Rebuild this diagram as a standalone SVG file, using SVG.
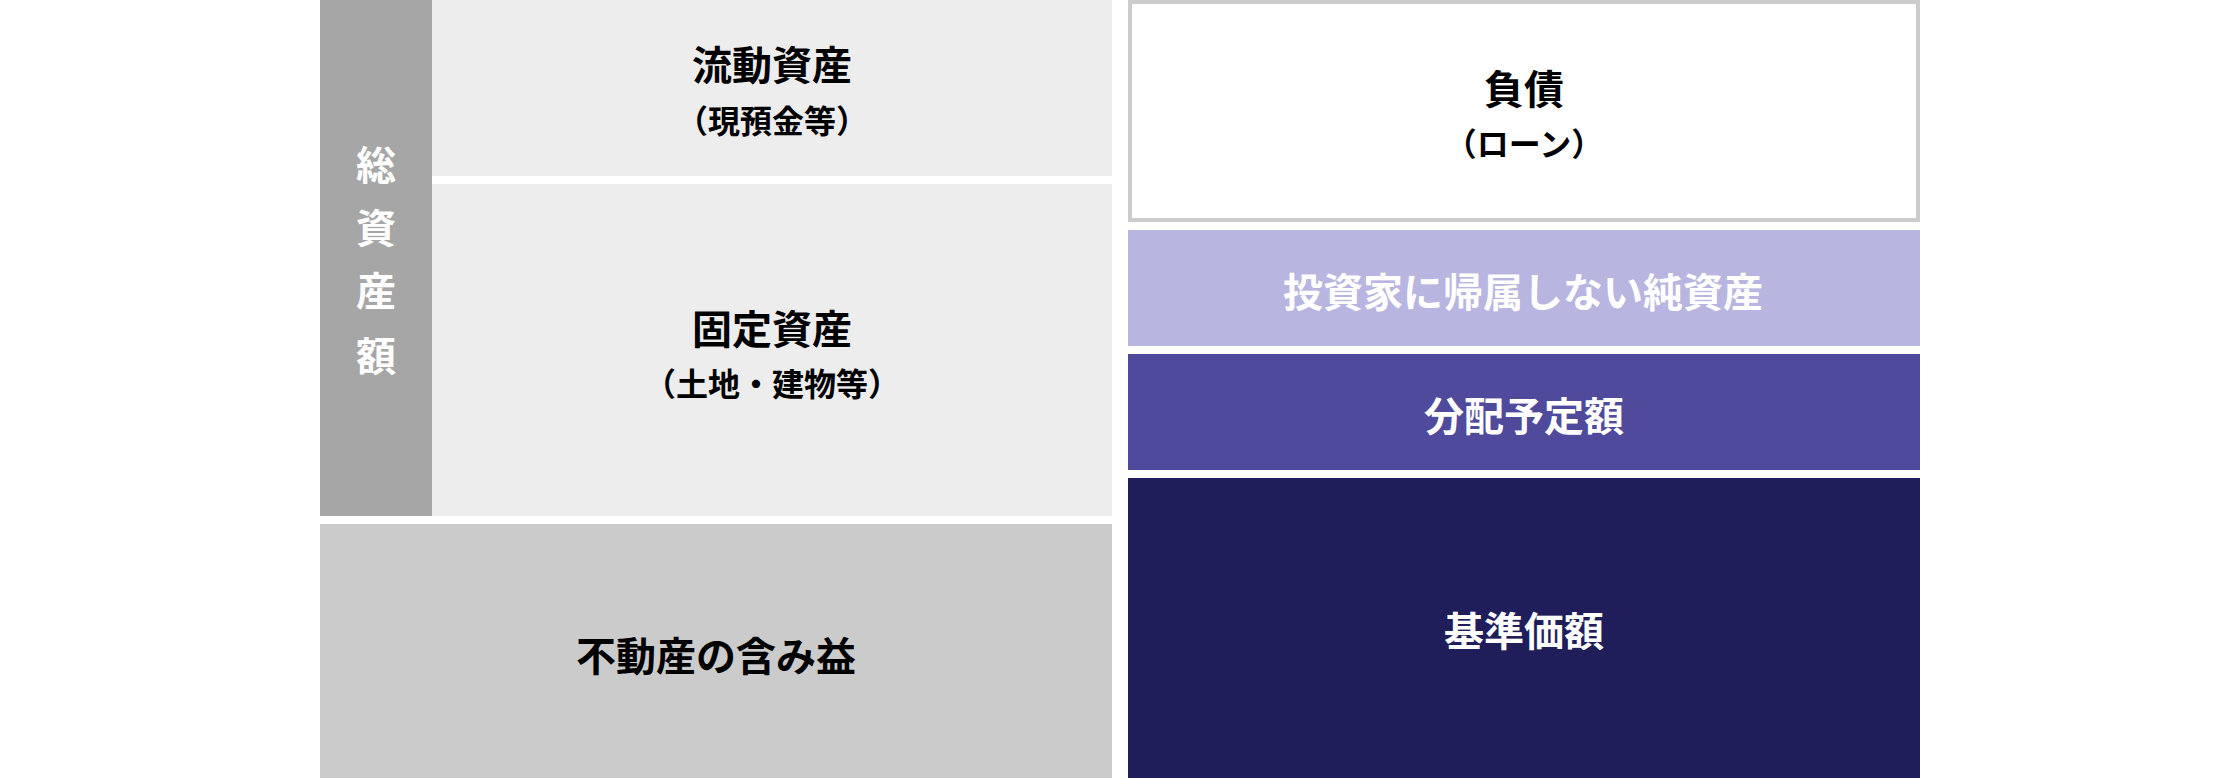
<svg xmlns="http://www.w3.org/2000/svg" width="2240" height="778" viewBox="0 0 2240 778">
<style>
text{font-family:"Noto Sans CJK JP","Noto Sans CJK SC",sans-serif;font-weight:700;text-anchor:middle}
.t{font-size:40px}
.s{font-size:32px}
.dk{fill:#000}
.wh{fill:#fff}
</style>
<rect width="2240" height="778" fill="#fff"/>
<g id="current-assets">
<rect x="432" y="0" width="680" height="176" fill="#ededed"/>
<text class="t dk" x="772" y="80">流動資産</text>
<text class="s dk" x="772" y="133">（現預金等）</text>
</g>
<g id="fixed-assets">
<rect x="432" y="184" width="680" height="332" fill="#ededed"/>
<text class="t dk" x="772" y="344">固定資産</text>
<text class="s dk" x="772" y="396">（土地・建物等）</text>
</g>
<g id="total-assets">
<rect x="320" y="0" width="112" height="516" fill="#a6a6a6"/>
<text class="t wh" x="376" y="180">総</text>
<text class="t wh" x="376" y="243">資</text>
<text class="t wh" x="376" y="306">産</text>
<text class="t wh" x="376" y="371">額</text>
</g>
<g id="unrealized-gain">
<rect x="320" y="524" width="792" height="254" fill="#cbcbcb"/>
<text class="t dk" x="716" y="671">不動産の含み益</text>
</g>
<g id="liabilities">
<rect x="1130" y="2" width="788" height="218" fill="#fff" stroke="#cccccc" stroke-width="4"/>
<text class="t dk" x="1524" y="104">負債</text>
<text class="s dk" x="1524" y="156">（ローン）</text>
</g>
<g id="non-investor-net-assets">
<rect x="1128" y="230" width="792" height="116" fill="#b8b5e0"/>
<text class="t wh" x="1523" y="307">投資家に帰属しない純資産</text>
</g>
<g id="distribution">
<rect x="1128" y="354" width="792" height="116" fill="#4f4a9c"/>
<text class="t wh" x="1524" y="431">分配予定額</text>
</g>
<g id="base-value">
<rect x="1128" y="478" width="792" height="300" fill="#1f1e5a"/>
<text class="t wh" x="1524" y="646">基準価額</text>
</g>
<g id="connectors"></g>
</svg>
